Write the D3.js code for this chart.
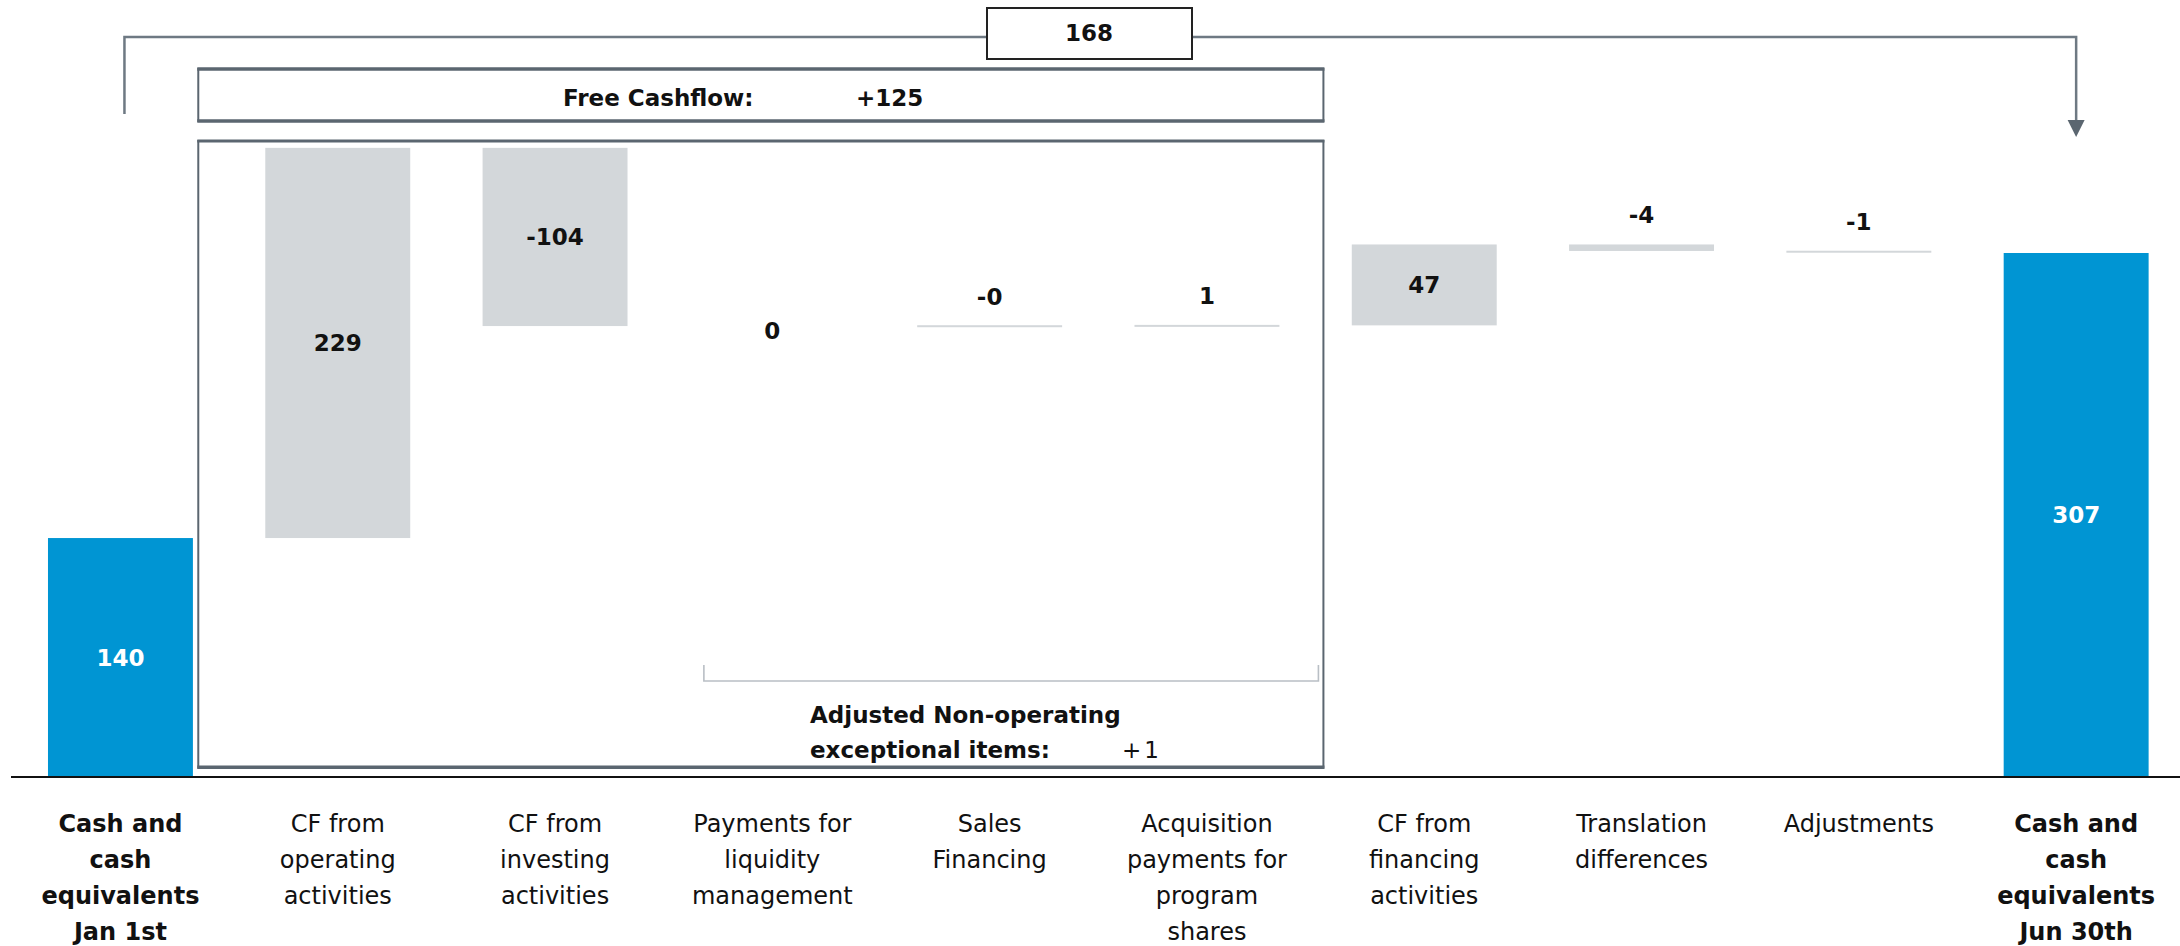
<!DOCTYPE html>
<html><head><meta charset="utf-8">
<script src="https://cdn.jsdelivr.net/npm/d3@7"></script>
<style>
html,body{margin:0;padding:0;background:#fff;}
svg{display:block;font-family:"DejaVu Sans",sans-serif;}
</style></head>
<body>
<svg id="chart" width="2180" height="946"></svg>
<script>
// ---- data ----
const categories = [
  ["Cash and","cash","equivalents","Jan 1st"],
  ["CF from","operating","activities"],
  ["CF from","investing","activities"],
  ["Payments for","liquidity","management"],
  ["Sales","Financing"],
  ["Acquisition","payments for","program","shares"],
  ["CF from","financing","activities"],
  ["Translation","differences"],
  ["Adjustments"],
  ["Cash and","cash","equivalents","Jun 30th"]
];
const kinds = ["total","delta","delta","delta","delta","delta","delta","delta","delta","total"];
const values = [140, 228.6, -104.4, 0, -0.2, 0.6, 47.4, -3.8, -0.9, 307];
const valueLabels = ["140","229","-104","0","-0","1","47","-4","-1","307"];
const freeCashflowLabel = "Free Cashflow:";
const freeCashflowValue = "+125";
const totalChangeValue = "168";
const nonOpLines = ["Adjusted Non-operating","exceptional items:"];
const nonOpValue = "+1";

// ---- layout ----
const svg = d3.select("#chart");
const baseY = 777;
const x = d3.scaleBand().domain(d3.range(categories.length))
  .range([11.8, 2184.8]).paddingInner(0.333).paddingOuter(0.1665);
const y = d3.scaleLinear().domain([0, 307]).range([baseY, 253]);
const bw = x.bandwidth();
const cx = i => x(i) + bw/2;

const blue = "#0095D3", gray = "#D3D7DA", dark = "#5B6670", line = "#6E7983";

// waterfall computation
let run = 0;
const bars = values.map((v,i) => {
  let lo, hi;
  if (kinds[i] === "total") { lo = 0; hi = v; run = v; }
  else { const s = run; run = s + v; lo = Math.min(s, run); hi = Math.max(s, run); }
  return {i, v, lo, hi, kind: kinds[i], level: run};
});

// ---- frames (drawn under bars) ----
const boxL = x(1) - 67, boxR = x(5) + bw + 44;
// Free cashflow box
svg.append("rect").attr("x", boxL).attr("y", 69).attr("width", boxR-boxL).attr("height", 52)
  .attr("fill","#fff").attr("stroke", dark).attr("stroke-width", 2);
[69,121].forEach(yy => svg.append("line").attr("x1",boxL-1).attr("x2",boxR+1).attr("y1",yy).attr("y2",yy)
  .attr("stroke",dark).attr("stroke-width",3.5));
svg.append("text").attr("x", 563).attr("y", 106).attr("font-size", 23).attr("font-weight","bold")
  .attr("fill","#111").text(freeCashflowLabel);
svg.append("text").attr("x", 856).attr("y", 106).attr("font-size", 23).attr("font-weight","bold")
  .attr("fill","#111").text(freeCashflowValue);

// big box
svg.append("rect").attr("x", boxL).attr("y", 141).attr("width", boxR-boxL).attr("height", 627)
  .attr("fill","#fff").attr("stroke", dark).attr("stroke-width", 2);
[141,767].forEach(yy => svg.append("line").attr("x1",boxL-1).attr("x2",boxR+1).attr("y1",yy).attr("y2",yy)
  .attr("stroke",dark).attr("stroke-width",3));

// non-operating bracket
const brL = x(3) + 4, brR = boxR - 5;
svg.append("path").attr("d", `M${brL},665 V681 H${brR} V665`).attr("fill","none")
  .attr("stroke","#B9BFC5").attr("stroke-width",1.6);
nonOpLines.forEach((t,k) => svg.append("text").attr("x", 810).attr("y", 723 + k*35)
  .attr("font-size", 23).attr("font-weight","bold").attr("fill","#111").text(t));
svg.append("text").attr("x", 1122).attr("y", 758).attr("font-size", 23).attr("letter-spacing", 3)
  .attr("fill","#111").text(nonOpValue);

// top bracket with 168
const tL = cx(0) + 4, tR = cx(9), tY = 37;
svg.append("path").attr("d", `M${tL},114 V${tY} H${tR} V121`).attr("fill","none")
  .attr("stroke", line).attr("stroke-width", 2.5);
svg.append("path").attr("d", `M${tR-8.5},120 L${tR+8.5},120 L${tR},137 Z`).attr("fill", dark);
svg.append("rect").attr("x", 987).attr("y", 8).attr("width", 205).attr("height", 51)
  .attr("fill","#fff").attr("stroke","#222").attr("stroke-width",2);
svg.append("text").attr("x", 1089).attr("y", 41).attr("text-anchor","middle")
  .attr("font-size", 23).attr("font-weight","bold").attr("fill","#111").text(totalChangeValue);

// ---- bars ----
svg.append("g").selectAll("rect").data(bars.filter(d => d.v !== 0)).join("rect")
  .attr("x", d => x(d.i)).attr("width", bw)
  .attr("y", d => { const h = y(d.lo) - y(d.hi); return h < 2 ? (y(d.lo)+y(d.hi))/2 - 1 : y(d.hi); })
  .attr("height", d => Math.max(2, y(d.lo) - y(d.hi)))
  .attr("fill", d => d.kind === "total" ? blue : gray);

// value labels
svg.append("g").selectAll("text").data(bars).join("text")
  .attr("x", d => cx(d.i))
  .attr("y", d => {
    const top = y(d.hi), bot = y(d.lo), h = bot - top;
    if (d.v === 0) return y(d.level) + 13;
    if (h > 40) return (top + bot)/2 + 8;
    return top - 29 + 8;
  })
  .attr("text-anchor","middle").attr("font-size", 23).attr("font-weight","bold")
  .attr("fill", d => d.kind === "total" ? "#fff" : "#111")
  .text((d,i) => valueLabels[i]);

// baseline
svg.append("line").attr("x1", 11).attr("x2", 2180).attr("y1", baseY).attr("y2", baseY)
  .attr("stroke", "#111").attr("stroke-width", 2);

// category labels
const cat = svg.append("g").selectAll("text").data(categories).join("text")
  .attr("x", (d,i) => cx(i)).attr("y", 832).attr("text-anchor","middle")
  .attr("font-size", 24).attr("fill","#111")
  .attr("font-weight", (d,i) => kinds[i] === "total" ? "bold" : "normal");
cat.selectAll("tspan").data(d => d).join("tspan")
  .attr("x", function(){ return d3.select(this.parentNode).attr("x"); })
  .attr("dy", (d,k) => k === 0 ? 0 : 36).text(d => d);
</script>
</body></html>
